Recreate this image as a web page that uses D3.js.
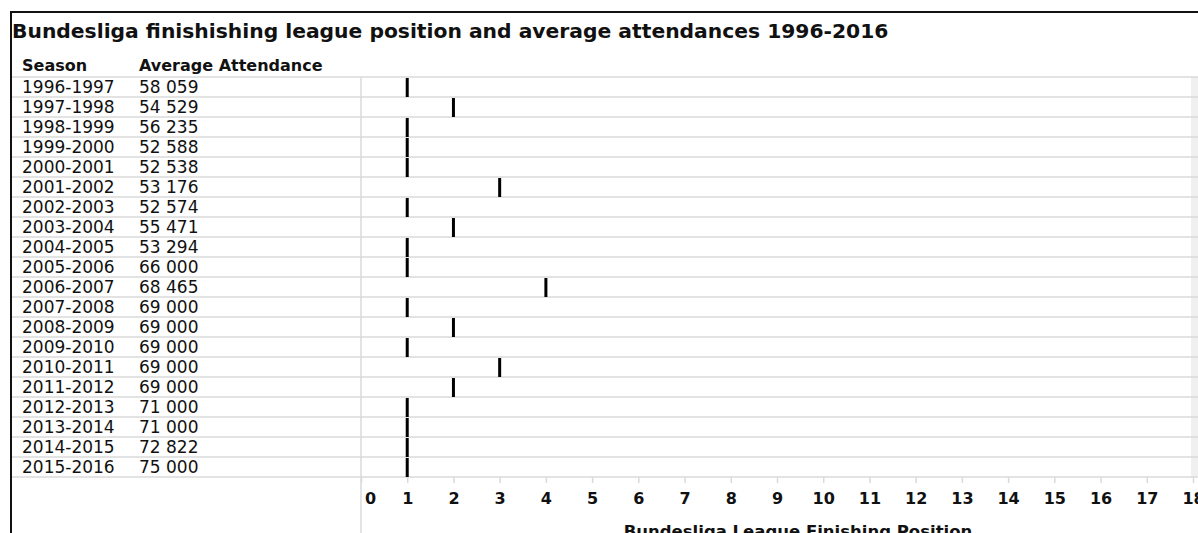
<!DOCTYPE html>
<html lang="en">
<head>
    <meta charset="UTF-8">
    <title>Bundesliga finishing position and attendance</title>
    <script src="https://d3js.org/d3.v7.min.js"></script>
    <style>
        body { margin: 0; background: #fff; }
        text { font-family: "DejaVu Sans", sans-serif; fill: #111; }
    </style>
</head>
<body>
<div id="chart"></div>

<script>
    const seasons = ['1996-1997', '1997-1998', '1998-1999', '1999-2000', '2000-2001', '2001-2002',
        '2002-2003', '2003-2004', '2004-2005', '2005-2006', '2006-2007', '2007-2008', '2008-2009',
        '2009-2010', '2010-2011', '2011-2012', '2012-2013', '2013-2014', '2014-2015', '2015-2016'];
    const attendance = ['58 059', '54 529', '56 235', '52 588', '52 538', '53 176', '52 574', '55 471',
        '53 294', '66 000', '68 465', '69 000', '69 000', '69 000', '69 000', '69 000', '71 000',
        '71 000', '72 822', '75 000'];
    const positions = [1, 2, 1, 1, 1, 3, 1, 2, 1, 1, 4, 1, 2, 1, 3, 2, 1, 1, 1, 1];
    const xTicks = d3.range(0, 19);

    const W = 1198, H = 533;
    const FONT = '"DejaVu Sans", sans-serif';
    const svg = d3.select('#chart')
        .append('svg')
        .attr('width', W)
        .attr('height', H);

    // scales
    const y = d3.scaleBand().domain(seasons).range([77, 477]);
    const x = d3.scaleLinear().domain([0, 18]).range([361, 1193]);

    // light band at right edge
    svg.append('rect')
        .attr('x', 1191).attr('y', y.range()[0])
        .attr('width', W - 1191).attr('height', y.range()[1] - y.range()[0])
        .attr('fill', '#f0f0f0');

    // row separators
    const rowLines = seasons.map(s => y(s)).concat([y.range()[1]]);
    svg.append('g')
        .selectAll('line')
        .data(rowLines)
        .join('line')
        .attr('x1', 12).attr('x2', W)
        .attr('y1', d => d).attr('y2', d => d)
        .attr('stroke', '#dadada')
        .attr('stroke-width', 1.5);

    // vertical separator at x = 0
    svg.append('line')
        .attr('x1', x(0)).attr('x2', x(0))
        .attr('y1', y.range()[0]).attr('y2', H)
        .attr('stroke', '#dadada')
        .attr('stroke-width', 1.5);

    // outer border (top + left)
    svg.append('path')
        .attr('d', `M11,${H} L11,12 L${W},12`)
        .attr('fill', 'none')
        .attr('stroke', '#111')
        .attr('stroke-width', 2);

    // title
    svg.append('text')
        .attr('x', 12).attr('y', 38)
        .attr('font-size', 20.3)
        .attr('font-weight', 700)
        .text('Bundesliga finishishing league position and average attendances 1996-2016');

    // headers
    svg.append('text').attr('x', 22).attr('y', 71)
        .attr('font-size', 16).attr('font-weight', 700).text('Season');
    svg.append('text').attr('x', 139).attr('y', 71)
        .attr('font-size', 16).attr('font-weight', 700).text('Average Attendance');

    // table columns
    const rows = svg.append('g')
        .selectAll('g')
        .data(seasons)
        .join('g')
        .attr('transform', d => `translate(0,${y(d) + y.bandwidth() / 2})`);

    rows.append('text')
        .attr('x', 22).attr('dy', '0.36em')
        .attr('font-size', 17)
        .text(d => d);

    rows.append('text')
        .attr('x', 139).attr('dy', '0.36em')
        .attr('font-size', 17)
        .text((d, i) => attendance[i]);

    // finishing position marks
    svg.append('g')
        .selectAll('line')
        .data(seasons)
        .join('line')
        .attr('x1', (d, i) => x(positions[i]))
        .attr('x2', (d, i) => x(positions[i]))
        .attr('y1', d => y(d) + 1)
        .attr('y2', d => y(d) + y.bandwidth())
        .attr('stroke', '#000')
        .attr('stroke-width', 3);

    // x axis
    const axis = svg.append('g')
        .attr('transform', `translate(0,${y.range()[1]})`)
        .call(d3.axisBottom(x).tickValues(xTicks).tickSize(6).tickPadding(10).tickFormat(d3.format('d')));
    axis.select('.domain').remove();
    axis.selectAll('.tick line').attr('stroke', '#dadada').attr('stroke-width', 1.5);
    axis.selectAll('.tick text')
        .attr('font-size', 16)
        .attr('font-weight', 700)
        .attr('font-family', FONT)
        .attr('fill', '#111')
        .attr('dx', d => d === 0 ? 9 : 0);

    // axis title
    svg.append('text')
        .attr('x', 798).attr('y', 537)
        .attr('text-anchor', 'middle')
        .attr('font-size', 16.5)
        .attr('font-weight', 700)
        .text('Bundesliga League Finishing Position');
</script>

</body>
</html>
